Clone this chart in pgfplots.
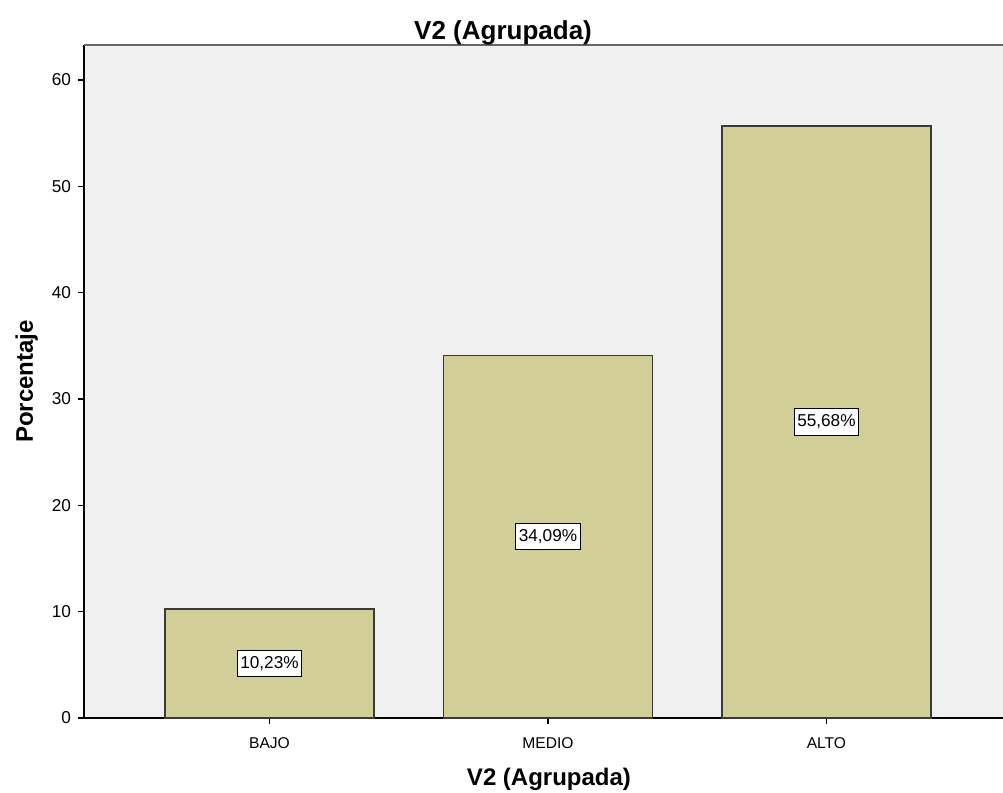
\documentclass[border=0pt]{standalone}
\usepackage{fontspec}
\setmainfont{Liberation Sans}
\usepackage{pgfplots}
\pgfplotsset{compat=1.18}

\definecolor{barfill}{HTML}{D2CE97}
\definecolor{plotbg}{HTML}{F0F0F0}
\definecolor{barline}{HTML}{3A3A3A}

\begin{document}
\begin{tikzpicture}
\begin{axis}[
    scale only axis,
    width=459.5pt,
    height=336.5pt,
    xmin=-0.666, xmax=2.634,
    ymin=0, ymax=63.3,
    axis x line*=bottom,
    axis y line*=left,
    axis line style={-, line width=0.8pt, black},
    axis background/.style={fill=plotbg},
    xtick={0,1,2},
    xticklabels={BAJO,MEDIO,ALTO},
    ytick={0,10,20,30,40,50,60},
    tick align=outside,
    major tick length=3pt,
    tick style={black, line width=0.7pt},
    /pgf/number format/assume math mode=true,
    x tick label style={font=\fontsize{7.8}{9}\selectfont, yshift=-3.5pt},
    y tick label style={font=\fontsize{8.6}{10}\selectfont},
    title={V2 (Agrupada)},
    title style={font=\fontsize{13}{15}\selectfont\bfseries, at={(axis description cs:0.456,1)}, anchor=center, yshift=0pt},
    xlabel={V2 (Agrupada)},
    xlabel style={font=\fontsize{12}{14}\selectfont\bfseries, at={(axis description cs:0.506,0)}, anchor=center, yshift=-30.5pt},
    ylabel={Porcentaje},
    ylabel style={font=\fontsize{12}{14}\selectfont\bfseries, at={(axis description cs:-0.0625,0.5)}, anchor=center, rotate=0},
    clip=false,
]
\addplot[ybar, bar width=104.5pt, fill=barfill, draw=barline, line width=0.8pt]
    coordinates {(0,10.23) (1,34.09) (2,55.68)};
\addplot[only marks, mark=none,
    nodes near coords,
    point meta=explicit symbolic,
    nodes near coords align={center},
    every node near coord/.append style={
        font=\fontsize{8.6}{10}\selectfont,
        fill=white, draw=black, line width=0.5pt,
        inner xsep=1.5pt, inner ysep=3pt}]
    coordinates {(0,5.115) [10,23\%] (1,17.045) [34,09\%] (2,27.84) [55,68\%]};
\draw[color=black!60, line width=1pt] (rel axis cs:0,1) -- (rel axis cs:1,1);
\end{axis}
\pgfresetboundingbox
\path[use as bounding box] (-42pt,-37.5pt) rectangle (459.5pt,359pt);
\end{tikzpicture}
\end{document}
